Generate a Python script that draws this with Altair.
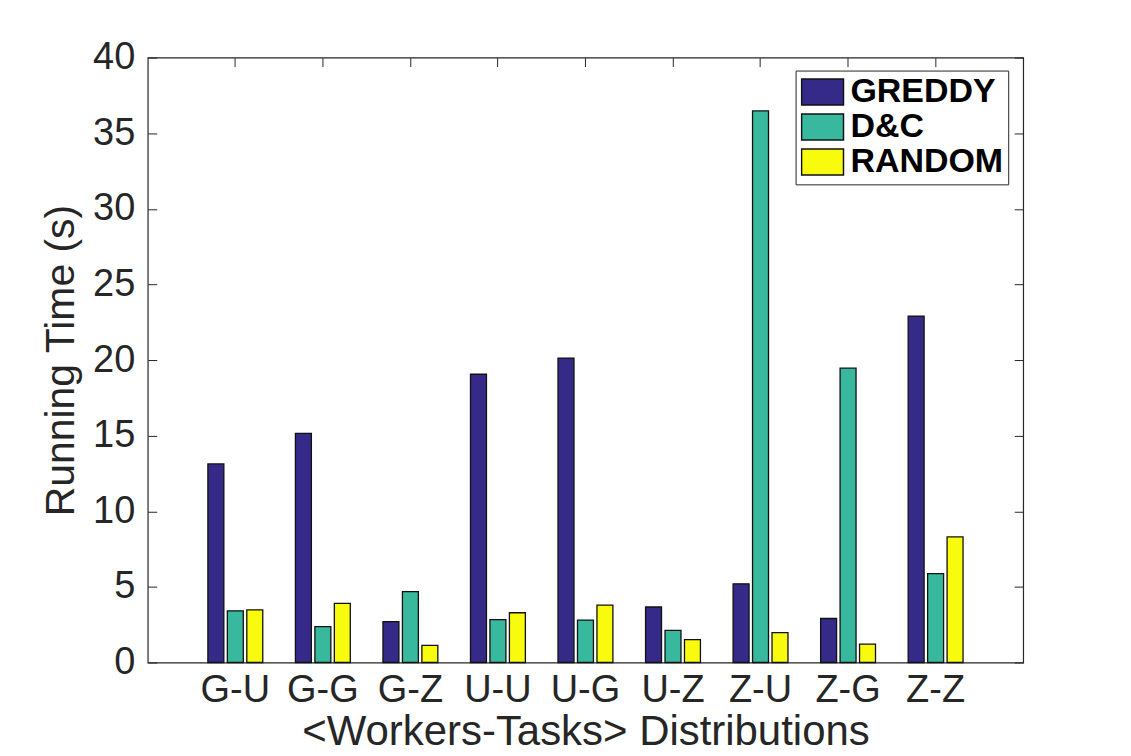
import altair as alt
import pandas as pd

cats = ["G-U", "G-G", "G-Z", "U-U", "U-G", "U-Z", "Z-U", "Z-G", "Z-Z"]
series = ["GREDDY", "D&C", "RANDOM"]
greedy = [13.13, 15.15, 2.70, 19.06, 20.13, 3.67, 5.20, 2.91, 22.91]
dc = [3.42, 2.37, 4.69, 2.83, 2.80, 2.13, 36.47, 19.46, 5.88]
rand = [3.48, 3.91, 1.13, 3.29, 3.80, 1.51, 1.97, 1.21, 8.30]
y_ticks = [0, 5, 10, 15, 20, 25, 30, 35, 40]
colors = ["#352a87", "#38b99e", "#f9fb0e"]

rows = []
for s, vals in zip(series, [greedy, dc, rand]):
    for c, v in zip(cats, vals):
        rows.append({"cat": c, "series": s, "value": v})
df = pd.DataFrame(rows)

FONT = "Liberation Sans"
TXT = "#262626"

xscale = alt.Scale(domain=cats, paddingInner=0.333, paddingOuter=0.667)
yscale = alt.Scale(domain=[0, 40], nice=False, zero=True)

bars = alt.Chart(df).mark_bar(stroke="#111111", strokeWidth=1.3).encode(
    x=alt.X("cat:N", sort=cats, scale=xscale,
            axis=alt.Axis(orient="bottom", title="<Workers-Tasks> Distributions",
                          labelAngle=0, domain=False, ticks=True, tickSize=9,
                          offset=-9, tickColor=TXT, labelPadding=9,
                          labelFont=FONT, labelFontSize=38, labelColor=TXT,
                          titleFont=FONT, titleFontSize=42, titleFontWeight="normal",
                          titleColor=TXT, titlePadding=2, grid=False)),
    xOffset=alt.XOffset("series:N", sort=series,
                        scale=alt.Scale(domain=series, paddingInner=0.18, paddingOuter=0.09)),
    y=alt.Y("value:Q", scale=yscale,
            axis=alt.Axis(orient="left", title="Running Time (s)", values=y_ticks,
                          domain=False, ticks=True, tickSize=9, offset=-9,
                          tickColor=TXT, labelPadding=13,
                          labelFont=FONT, labelFontSize=38, labelColor=TXT,
                          titleFont=FONT, titleFontSize=41, titleFontWeight="normal",
                          titleColor=TXT, titlePadding=10, grid=False)),
    color=alt.Color("series:N", sort=series,
                    scale=alt.Scale(domain=series, range=colors),
                    legend=alt.Legend(title=None, orient="none", legendX=649, legendY=13,
                                      direction="vertical", fillColor="white",
                                      strokeColor=TXT, padding=5,
                                      symbolType="M-1,-0.62H1V0.62H-1Z", symbolSize=1764,
                                      symbolStrokeColor="#111111", symbolStrokeWidth=1.5,
                                      symbolOpacity=1,
                                      labelFont=FONT, labelFontWeight="bold",
                                      labelFontSize=34, labelColor="black",
                                      labelOffset=6, rowPadding=0, clipHeight=33)),
)

mirror = alt.Chart(df).mark_bar(opacity=0).encode(
    x=alt.X("cat:N", sort=cats, scale=xscale,
            axis=alt.Axis(orient="top", title=None, labels=False, domain=False,
                          ticks=True, tickSize=9, offset=-9, tickColor=TXT, grid=False)),
    y=alt.Y("value:Q", scale=yscale,
            axis=alt.Axis(orient="right", title=None, labels=False, values=y_ticks,
                          domain=False, ticks=True, tickSize=9, offset=-9,
                          tickColor=TXT, grid=False)),
)

chart = alt.layer(mirror, bars).resolve_axis(x="independent", y="independent").properties(
    width=877, height=606,
    autosize=alt.AutoSizeParams(type="none"),
    padding={"left": 140, "top": 49, "right": 100, "bottom": 92},
).configure_view(stroke=TXT, strokeWidth=1.2)

chart.save("out.html", embed_options={"renderer": "svg", "actions": False})
